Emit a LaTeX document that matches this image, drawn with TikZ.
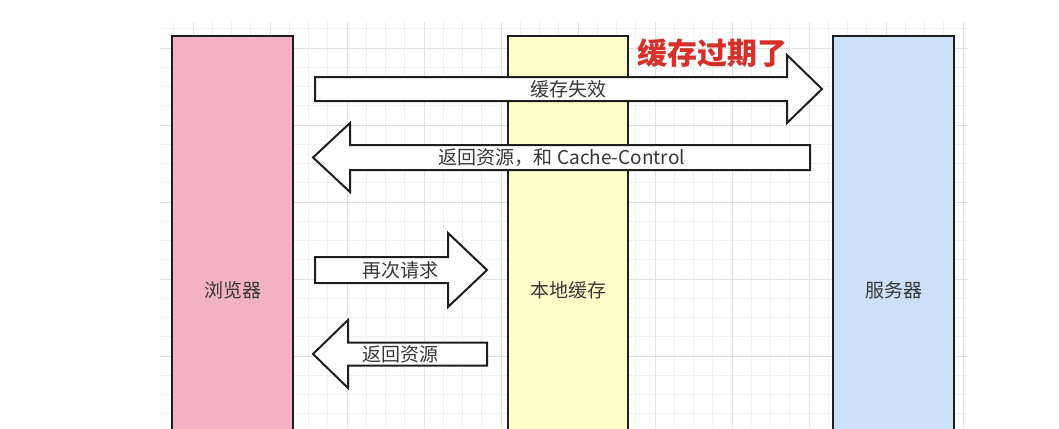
\documentclass[tikz,border=0pt]{standalone}
\usepackage{fontspec}
\setmainfont{Noto Sans CJK SC}
\definecolor{pinkfill}{RGB}{243,178,196}
\definecolor{yellowfill}{RGB}{255,255,204}
\definecolor{bluefill}{RGB}{204,224,248}
\definecolor{edge}{RGB}{30,30,30}
\definecolor{labeltext}{RGB}{55,55,55}
\definecolor{titlered}{RGB}{214,48,42}
\begin{document}
\begin{tikzpicture}[x=1pt,y=-1pt,
  minorgrid/.style={draw=black!6,line width=0.6pt},
  majorgrid/.style={draw=black!12,line width=0.8pt},
  lane/.style={draw=edge,line width=2.2pt},
  blockarrow/.style={draw=edge,fill=white,line width=2pt,line join=miter},
  lbl/.style={text=labeltext,font=\fontsize{19}{19}\selectfont,inner sep=0pt},
  title/.style={text=titlered,font=\fontsize{30}{30}\selectfont\bfseries,inner sep=0pt}]
\clip (0,0) rectangle (1059,428);
\fill[white] (0,0) rectangle (1059,428);
% grid
\foreach \i in {0,...,41} {\draw[minorgrid] ({173.75+19.25*\i},22) -- ++(0,406);}
\foreach \i in {0,...,20} {\draw[minorgrid] (160,{28.75+19.25*\i}) -- ++(808,0);}
\foreach \i in {0,...,10} {\draw[majorgrid] ({193+77*\i},22) -- ++(0,406);}
\foreach \i in {0,...,4} {\draw[majorgrid] (160,{48+77*\i}) -- ++(808,0);}
% lanes
\path[lane,fill=pinkfill] (172,36) rectangle (293,440);
\path[lane,fill=yellowfill] (508,36) rectangle (628,440);
\path[lane,fill=bluefill] (833,36) rectangle (954,440);
\node[lbl] (browser) at (232.5,290) {浏览器};
\node[lbl] (cache) at (568,290) {本地缓存};
\node[lbl] (server) at (893.5,290) {服务器};
% arrow 1: cache invalid (right)
\coordinate (a1tip) at (822,89);
\path[blockarrow] (315,77) -- (787,77) -- (787,55) -- (a1tip) -- (787,123) -- (787,101) -- (315,101) -- cycle;
\node[lbl] (l1) at (568,89) {缓存失效};
% arrow 2: return resource + Cache-Control (left)
\coordinate (a2tip) at (313,157.5);
\path[blockarrow] (810,145) -- (350,145) -- (350,123) -- (a2tip) -- (350,192) -- (350,170) -- (810,170) -- cycle;
\node[lbl] (l2) at (562,158) {返回资源，和 Cache-Control};
% arrow 3: request again (right)
\coordinate (a3tip) at (487,270);
\path[blockarrow] (315,257) -- (448,257) -- (448,233) -- (a3tip) -- (448,307) -- (448,283) -- (315,283) -- cycle;
\node[lbl] (l3) at (400,270) {再次请求};
% arrow 4: return resource (left)
\coordinate (a4tip) at (313,354);
\path[blockarrow] (487,342.5) -- (348,342.5) -- (348,320) -- (a4tip) -- (348,388) -- (348,365.5) -- (487,365.5) -- cycle;
\node[lbl] (l4) at (400,354) {返回资源};
% title
\node[title] (expired) at (712,53) {缓存过期了};
\end{tikzpicture}
\end{document}
